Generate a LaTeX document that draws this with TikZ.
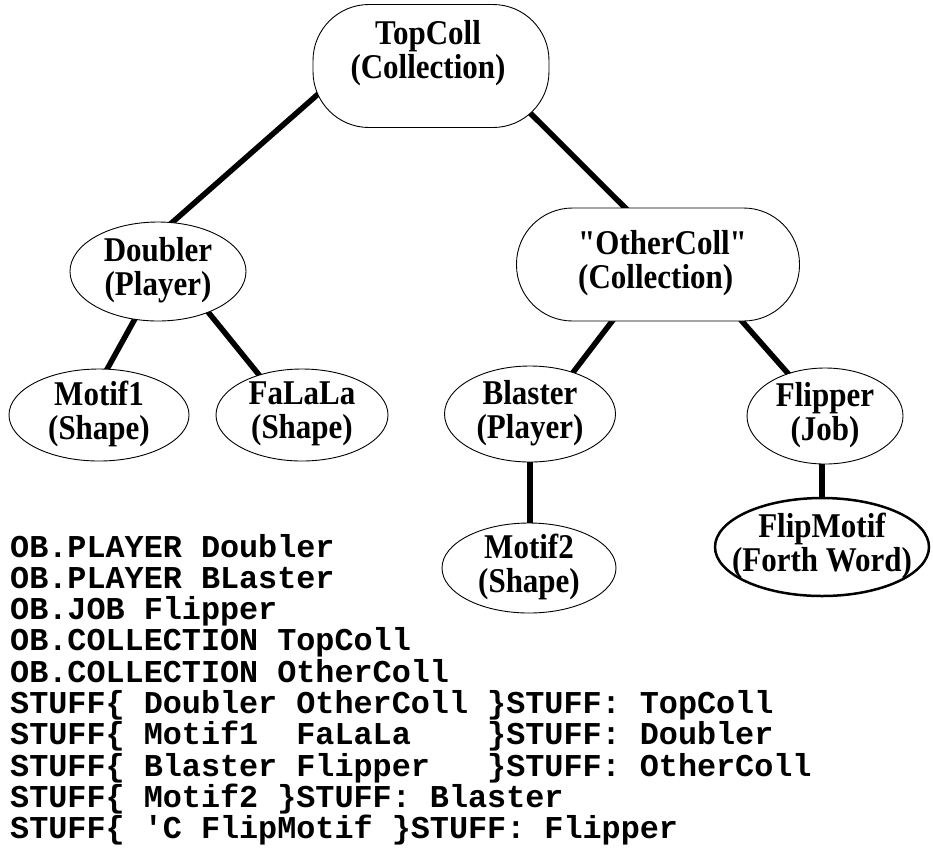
\documentclass[tikz,border=0pt]{standalone}
\usepackage{graphicx}
\usepackage{fontspec}
\setmainfont{Liberation Serif}
\setmonofont{Liberation Mono}
\usetikzlibrary{shapes.geometric,backgrounds,calc}
\newcommand\twolc[2]{\scalebox{1}[1.12]{\begin{tabular}{@{}c@{}}#1\\#2\end{tabular}}}
\newcommand\twoll[2]{\scalebox{1}[1.12]{\begin{tabular}{@{}l@{}}#1\\#2\end{tabular}}}
\begin{document}
\begin{tikzpicture}[x=1pt,y=-1pt,
  bub/.style={ellipse,draw,line width=0.9pt,fill=white,inner sep=0pt,outer sep=0pt},
  collbox/.style={rectangle,draw,line width=0.9pt,fill=white,rounded corners=56pt,inner sep=0pt,outer sep=0pt},
  lbl/.style={inner sep=0pt,font=\bfseries\fontsize{31}{29.5}\selectfont},
  conn/.style={line width=5.5pt,shorten <=-6pt,shorten >=-6pt},
  code/.style={anchor=base west,inner sep=0pt,font=\ttfamily\bfseries\fontsize{31.8}{31.3}\selectfont}]
\useasboundingbox (0,0) rectangle (933,847);

% collection shapes
\node[collbox,minimum width=236pt,minimum height=123pt] (top) at (431,66) {};
\node[lbl] (toptxt) at (428,54) {\twolc{TopColl}{(Collection)}};
\node[collbox,minimum width=283pt,minimum height=113pt] (oth) at (658,264.5) {};
\node[lbl,anchor=west] (othtxt) at (578,264) {\twoll{\textquotedbl OtherColl\textquotedbl}{(Collection)}};

% ellipses
\node[bub,minimum width=176pt,minimum height=99pt] (dbl) at (158,271.5) {};
\node[lbl] (dbltxt) at (dbl) {\twolc{Doubler}{(Player)}};
\node[bub,minimum width=180pt,minimum height=92pt] (m1) at (99,415) {};
\node[lbl] (m1txt) at (m1) {\twolc{Motif1}{(Shape)}};
\node[bub,minimum width=172pt,minimum height=92pt] (fa) at (302,415) {};
\node[lbl] (fatxt) at (fa) {\twolc{FaLaLa}{(Shape)}};
\node[bub,minimum width=171pt,minimum height=96pt] (bl) at (530,414) {};
\node[lbl] (bltxt) at (bl) {\twolc{Blaster}{(Player)}};
\node[bub,minimum width=156pt,minimum height=96pt] (fl) at (825,416) {};
\node[lbl] (fltxt) at (fl) {\twolc{Flipper}{(Job)}};
\node[bub,minimum width=174pt,minimum height=90pt] (m2) at (529,568) {};
\node[lbl] (m2txt) at (m2) {\twolc{Motif2}{(Shape)}};
\node[bub,line width=2.5pt,minimum width=214pt,minimum height=98pt] (fm) at (822,547) {};
\node[lbl] (fmtxt) at (fm) {\twolc{FlipMotif}{(Forth Word)}};

% connectors
\begin{pgfonlayer}{background}
\draw[conn] ($(top.center)+(-56,-22)$) -- (dbl.74);
\draw[conn] ($(top.center)+(58,6)$) -- (oth.120);
\draw[conn] (dbl.244) -- (m1.80);
\draw[conn] (dbl.321) -- (fa.137);
\draw[conn] (oth.231) -- (bl.44);
\draw[conn] (oth.326) -- (fl.131);
\draw[conn] (bl.south) -- (bl.south |- m2.north);
\draw[conn] (fm.north |- fl.south) -- (fm.north);
\end{pgfonlayer}

% code listing
\node[code] (c1) at (10,557) {OB.PLAYER Doubler};
\node[code] (c2) at (10,588.3) {OB.PLAYER BLaster};
\node[code] (c3) at (10,619.6) {OB.JOB Flipper};
\node[code] (c4) at (10,650.9) {OB.COLLECTION TopColl};
\node[code] (c5) at (10,682.2) {OB.COLLECTION OtherColl};
\node[code] (c6) at (10,713.5) {STUFF\{~Doubler OtherColl~\}STUFF: TopColl};
\node[code] (c7) at (10,744.8) {STUFF\{~Motif1~~FaLaLa~~~~\}STUFF: Doubler};
\node[code] (c8) at (10,776.1) {STUFF\{~Blaster Flipper~~~\}STUFF: OtherColl};
\node[code] (c9) at (10,807.4) {STUFF\{~Motif2~\}STUFF: Blaster};
\node[code] (c10) at (10,838.7) {STUFF\{~\textquotesingle C FlipMotif~\}STUFF: Flipper};
\end{tikzpicture}
\end{document}
